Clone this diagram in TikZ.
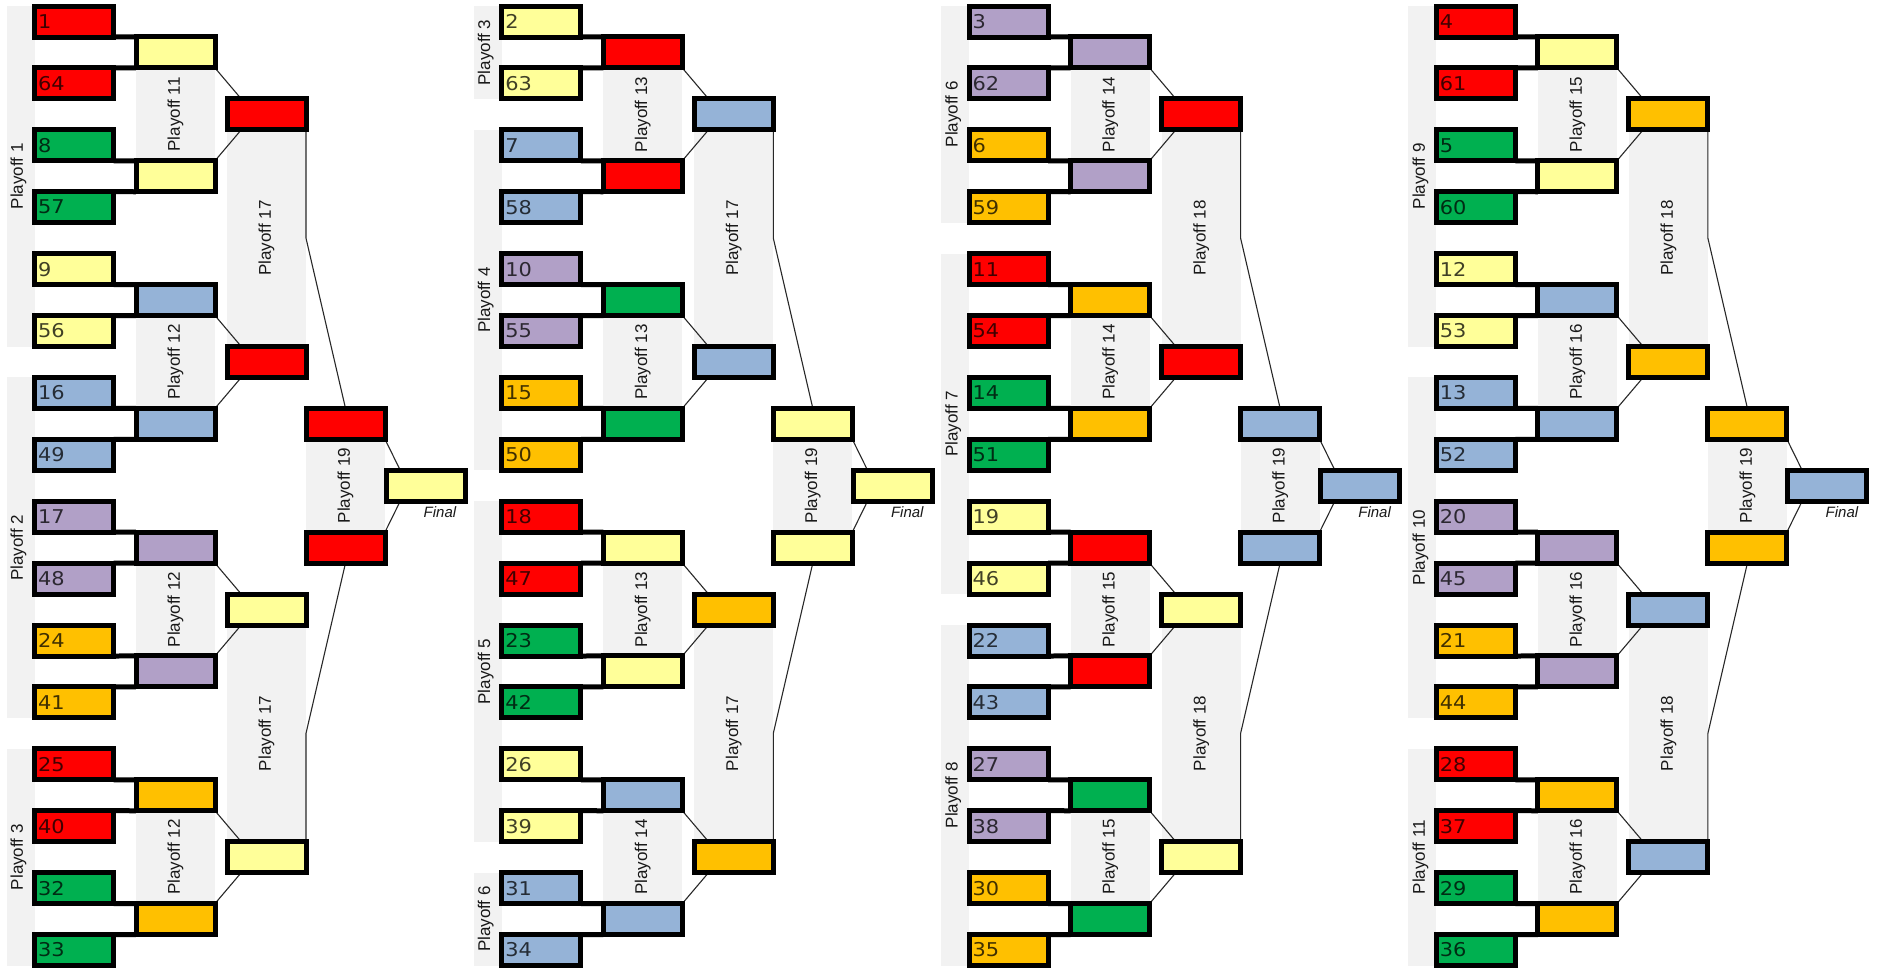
\documentclass[tikz,border=0pt]{standalone}
\usepackage{fontspec}
\setmainfont{Liberation Sans}
\newfontfamily\numfont[FakeStretch=1.1]{DejaVu Sans}
\usetikzlibrary{calc}
\definecolor{cR}{RGB}{255,0,0}
\definecolor{cY}{RGB}{255,255,153}
\definecolor{cG}{RGB}{0,176,80}
\definecolor{cB}{RGB}{149,179,215}
\definecolor{cP}{RGB}{177,160,199}
\definecolor{cO}{RGB}{255,192,0}
\definecolor{pgray}{RGB}{242,242,242}
\definecolor{wire}{RGB}{40,40,40}
\pgfdeclarelayer{bg}
\pgfdeclarelayer{mid}
\pgfsetlayers{bg,mid,main}
\tikzset{
  ebox/.style={draw=black, line width=5pt, minimum width=79pt, minimum height=31pt, inner sep=0pt, outer sep=0pt, fill=#1},
  tbox/.style={ebox=#1, text width=72pt, align=left, inner xsep=3.5pt, font=\numfont\fontsize{19}{19}\selectfont, text=black, text opacity=0.75},
  bar/.style={line width=5pt},
  wirel/.style={draw=wire, line width=1.1pt},
  plabel/.style={rotate=90, font=\fontsize{17}{17}\selectfont, text=black!90, inner sep=0pt},
  finl/.style={font=\itshape\fontsize{15}{15}\selectfont, text=black!90},
}
% #1 prefix, #2 x offset, #3 round-1 num/col, #4 round-2 cols, #5 round-2 labels,
% #6 round-3 cols, #7 round-3 label, #8 round-4 col, #9 final col
\newcommand\bblock[9]{%
\begin{scope}[xshift=#2]
 \foreach \num/\col [count=\i from 0] in {#3}{
   \pgfmathsetmacro\yy{21.5+61.9*\i}
   \node[tbox=c\col] (#1a\i) at (74,\yy) {\num};
 }
 \foreach \col [count=\j from 0] in {#4}{
   \pgfmathsetmacro\yy{52.45+123.8*\j}
   \node[ebox=c\col] (#1b\j) at (175.5,\yy) {};
 }
 \foreach \col [count=\k from 0] in {#6}{
   \pgfmathsetmacro\yy{114.35+247.6*\k}
   \node[ebox=c\col] (#1c\k) at (266.5,\yy) {};
 }
 \node[ebox=c#8] (#1d0) at (345.5,423.75) {};
 \node[ebox=c#8] (#1d1) at (345.5,547.55) {};
 \node[ebox=c#9] (#1f) at (425.5,485.65) {};
 \node[finl, anchor=north] (#1fl) at (440,503) {Final};
 \foreach \j in {0,...,7}{
   \pgfmathtruncatemacro\ta{2*\j}
   \pgfmathtruncatemacro\tb{2*\j+1}
   \draw[bar] (#1a\ta.south east) -- (#1b\j.north west);
   \draw[bar] (#1a\tb.north east) -- (#1b\j.south west);
 }
 \begin{pgfonlayer}{mid}
 \foreach \k in {0,...,3}{
   \pgfmathtruncatemacro\ta{2*\k}
   \pgfmathtruncatemacro\tb{2*\k+1}
   \draw[wirel] (#1b\ta.south east) -- ($(#1c\k.north west)!0.18!(#1c\k.north east)$);
   \draw[wirel] (#1b\tb.north east) -- ($(#1c\k.south west)!0.18!(#1c\k.south east)$);
 }
 \draw[wirel] (#1c0.south east) -- ($(#1c0.east)!0.5!(#1c1.east)$) -- (#1d0.north);
 \draw[wirel] (#1c3.north east) -- ($(#1c2.east)!0.5!(#1c3.east)$) -- (#1d1.south);
 \draw[wirel] (#1d0.south east) -- ($(#1f.north west)!0.18!(#1f.north east)$);
 \draw[wirel] (#1d1.north east) -- ($(#1f.south west)!0.18!(#1f.south east)$);
 \end{pgfonlayer}
 \begin{pgfonlayer}{bg}
 \foreach \lab [count=\k from 0] in {#5}{
   \pgfmathtruncatemacro\ta{2*\k}
   \pgfmathtruncatemacro\tb{2*\k+1}
   \fill[pgray] (#1b\ta.south west) rectangle (#1b\tb.north east);
   \node[plabel] (#1bl\k) at ($(#1b\ta.south)!0.5!(#1b\tb.north)$) {Playoff \lab};
 }
 \fill[pgray] (#1c0.south west) rectangle (#1c1.north east);
 \node[plabel] (#1cl0) at ($(#1c0.south)!0.5!(#1c1.north)$) {Playoff #7};
 \fill[pgray] (#1c2.south west) rectangle (#1c3.north east);
 \node[plabel] (#1cl1) at ($(#1c2.south)!0.5!(#1c3.north)$) {Playoff #7};
 \fill[pgray] (#1d0.south west) rectangle (#1d1.north east);
 \node[plabel] (#1dl) at ($(#1d0.south)!0.5!(#1d1.north)$) {Playoff 19};
 \end{pgfonlayer}
\end{scope}}
% left panels: #1 prefix, #2 list first/last/label
\newcommand\lpanels[2]{%
 \begin{pgfonlayer}{bg}
 \foreach \fa/\fb/\lab [count=\n] in {#2}{
   \fill[pgray] ($(#1a\fa.north west)+(-28,0)$) rectangle (#1a\fb.south west);
   \node[plabel] (#1p\n) at ($($(#1a\fa.north west)!0.5!(#1a\fb.south west)$)+(-16,0)$) {Playoff \lab};
 }
 \end{pgfonlayer}}
\begin{document}
\begin{tikzpicture}[x=1pt,y=-1pt]
\useasboundingbox (0,0) rectangle (1881,967);
\bblock{pa}{0pt}{1/R,64/R,8/G,57/G,9/Y,56/Y,16/B,49/B,17/P,48/P,24/O,41/O,25/R,40/R,32/G,33/G}
  {Y,Y,B,B,P,P,O,O}{11,12,12,12}{R,R,Y,Y}{17}{R}{Y}
\bblock{pb}{467.3pt}{2/Y,63/Y,7/B,58/B,10/P,55/P,15/O,50/O,18/R,47/R,23/G,42/G,26/Y,39/Y,31/B,34/B}
  {R,R,G,G,Y,Y,B,B}{13,13,13,14}{B,B,O,O}{17}{Y}{Y}
\bblock{pc}{934.6pt}{3/P,62/P,6/O,59/O,11/R,54/R,14/G,51/G,19/Y,46/Y,22/B,43/B,27/P,38/P,30/O,35/O}
  {P,P,O,O,R,R,G,G}{14,14,15,15}{R,R,Y,Y}{18}{B}{B}
\bblock{pd}{1401.9pt}{4/R,61/R,5/G,60/G,12/Y,53/Y,13/B,52/B,20/P,45/P,21/O,44/O,28/R,37/R,29/G,36/G}
  {Y,Y,B,B,P,P,O,O}{15,16,16,16}{O,O,B,B}{18}{O}{B}
\lpanels{pa}{0/5/1,6/11/2,12/15/3}
\lpanels{pb}{0/1/3,2/7/4,8/13/5,14/15/6}
\lpanels{pc}{0/3/6,4/9/7,10/15/8}
\lpanels{pd}{0/5/9,6/11/10,12/15/11}
\end{tikzpicture}
\end{document}
